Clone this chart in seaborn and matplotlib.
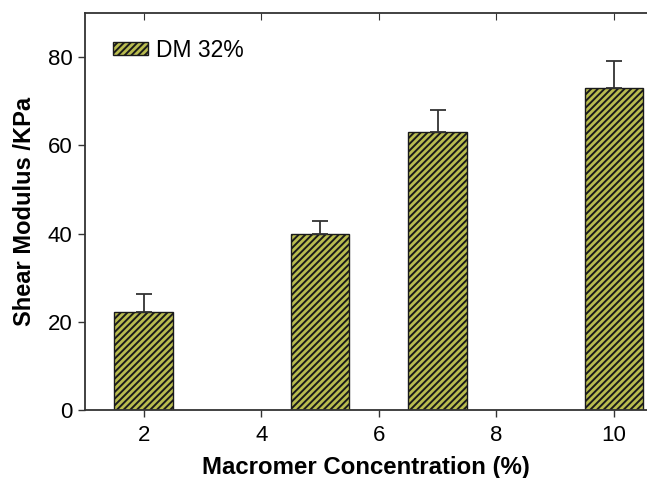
import matplotlib
matplotlib.use("Agg")
import matplotlib.pyplot as plt
import seaborn as sns
import pandas as pd
from matplotlib.patches import Patch

# Shear modulus of hydrogels vs. macromer concentration
concentration = [2, 5, 7, 10]
shear_modulus = [22.3, 39.8, 63.1, 73.0]
modulus_err = [4.0, 3.0, 5.0, 6.0]
series_label = "DM 32%"
x_ticks = [2, 4, 6, 8, 10]
y_ticks = [0, 20, 40, 60, 80]

df = pd.DataFrame({"conc": concentration, "G": shear_modulus})

sns.set_style("ticks")
plt.rcParams["font.family"] = ["Liberation Sans", "DejaVu Sans"]
plt.rcParams["hatch.linewidth"] = 1.4
plt.rcParams["hatch.color"] = "#141414"
plt.rcParams["text.color"] = "black"
plt.rcParams["axes.labelcolor"] = "black"
plt.rcParams["xtick.color"] = "black"
plt.rcParams["ytick.color"] = "black"

bar_color = "#b9bc4f"
hatch = "/////"

fig = plt.figure(figsize=(6.47, 4.78), dpi=100)
ax = fig.add_axes([0.131, 0.142, 0.869, 0.831])

sns.barplot(data=df, x="conc", y="G", native_scale=True, width=0.5,
            color=bar_color, saturation=1, errorbar=None, ax=ax,
            edgecolor="#1a1a1a", linewidth=1.0)
for p in ax.patches:
    p.set_hatch(hatch)

ax.errorbar(concentration, shear_modulus, yerr=[[0] * len(modulus_err), modulus_err],
            fmt="none", ecolor="#333333", elinewidth=1.3, capsize=6, capthick=1.3)

ax.set_xlim(1.0, 10.56)
ax.set_ylim(0, 90)
ax.set_xticks(x_ticks)
ax.set_yticks(y_ticks)
ax.set_xticklabels([str(t) for t in x_ticks])
ax.set_yticklabels([str(t) for t in y_ticks])
ax.tick_params(axis="both", labelsize=16, length=5, width=1.0, color="#333333",
               labelcolor="black", direction="out", pad=4)
ax.tick_params(axis="x", pad=6)

# top axis with inward ticks, no right spine
ax.spines["right"].set_visible(False)
for s in ["left", "bottom", "top"]:
    ax.spines[s].set_linewidth(1.3)
    ax.spines[s].set_color("#333333")
secx = ax.secondary_xaxis("top")
secx.set_xticks(x_ticks)
secx.tick_params(axis="x", direction="in", length=5, labeltop=False, color="#333333")
secx.spines["top"].set_visible(False)
ax.tick_params(axis="x", top=False)

ax.set_xlabel("Macromer Concentration (%)", fontsize=17.3, fontweight="bold", labelpad=7)
ax.set_ylabel("Shear Modulus /KPa", fontsize=17, fontweight="bold", labelpad=8)

handle = Patch(facecolor=bar_color, edgecolor="#1a1a1a", hatch=hatch, linewidth=1.0)
ax.legend([handle], [series_label], loc="upper left", frameon=False, fontsize=16.5,
          handlelength=1.55, handleheight=0.5, handletextpad=0.35,
          borderpad=0, borderaxespad=0, bbox_to_anchor=(0.05, 0.935))

fig.savefig("out.png", dpi=100)
